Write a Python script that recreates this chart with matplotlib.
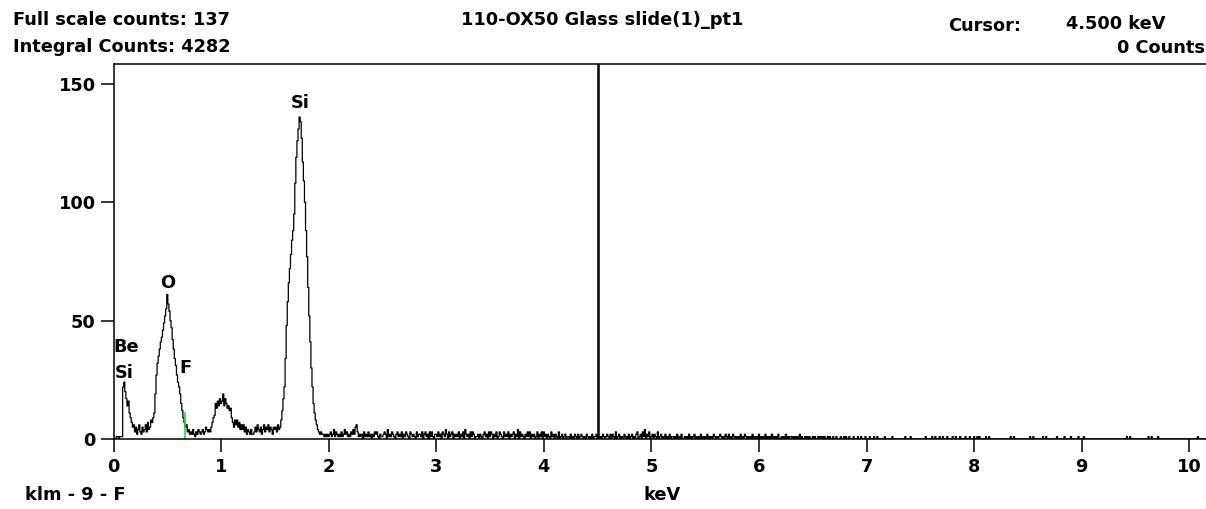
import numpy as np
import matplotlib
matplotlib.use("Agg")
from matplotlib import pyplot as plt

# EDS spectrum, one value per 0.01 keV channel
STEP = 0.01
peak_counts = [
    0, 0, 0, 1, 1, 0, 1, 1, 1, 22,          # 0.00
    24, 20, 17, 14, 16, 11, 9, 7, 5, 6,     # 0.10
    3, 5, 2, 4, 6, 3, 2, 5, 3, 4,           # 0.20
    6, 3, 7, 4, 5, 8, 7, 9, 11, 19,         # 0.30
    27, 32, 35, 38, 41, 43, 46, 49, 52, 55, # 0.40
    61, 57, 54, 50, 47, 42, 38, 34, 31, 27, # 0.50
    24, 22, 19, 15, 12, 9, 7, 5, 6, 3,      # 0.60
    4, 2, 3, 2, 4, 2, 1, 3, 2, 4,           # 0.70
    3, 2, 3, 4, 2, 3, 5, 4, 3, 4,           # 0.80
    3, 5, 7, 9, 10, 15, 13, 16, 14, 17,     # 0.90
    15, 16, 19, 14, 17, 15, 13, 14, 12, 13, # 1.00
    9, 7, 5, 8, 6, 8, 5, 7, 4, 6,           # 1.10
    4, 6, 3, 5, 2, 4, 3, 2, 4, 2,           # 1.20
    2, 3, 5, 3, 6, 4, 3, 5, 2, 4,           # 1.30
    6, 3, 5, 4, 6, 3, 5, 4, 2, 5,           # 1.40
    4, 5, 3, 6, 4, 5, 8, 12, 17, 22,        # 1.50
    34, 48, 58, 66, 72, 78, 84, 88, 95, 108,        # 1.60
    119, 126, 131, 136, 134, 127, 117, 109, 100, 88, # 1.70
    77, 64, 52, 41, 30, 22, 15, 11, 8, 6,   # 1.80
    4, 3, 2, 3, 2, 2, 1, 2, 1, 2,           # 1.90
    1, 2, 3, 1, 2, 4, 1, 3, 2, 1,           # 2.00
]

# low background from 2.1 keV on, one digit per channel
tail_rows = [
    "2131242312", "1324256312", "1203121312", "0213231021", "1232041213",
    "2102312130", "2132103212", "1031221302", "3120313102",
    "2131203214", "2031230212", "1302130421", "2031320112", "0210231203",
    "1320213013", "2103121302", "1230214031", "2102131302", "1201302130",
    "3120210312", "0210301201", "2011020102", "1020121010", "2101020112",
    "0101021012", "1020210301", "2010120102", "0120102301", "2031402130",
    "1202103012", "0102010201", "1010201020", "0101020101", "2010102010",
    "1020101021", "0101210102", "1020102101", "0102010210", "1010201010",
    "2010102010", "1020101020", "0101020101", "1010101020", "1001010100",
    "1010010101", "0100101001", "0010001001", "0100100010", "0010010001",
    "0001000100", "1000000100", "0000100000", "0000001000", "0100000000",
    "0000010000", "0100100010", "0100010000", "1001000100", "0010001000",
    "1001010000", "0100100000", "0000000000", "0000100100", "0000000000",
    "0010010000", "0000100100", "0000000100", "0000100000", "1000000100",
    "0010000000", "0000000000", "0000000000", "0000000000", "0010010000",
    "0000000000", "0010010000", "0100000000", "0000000000", "0000000000",
    "0000000010", "000000",
]
tail_counts = [int(c) for c in "".join(tail_rows)]

counts = np.array(peak_counts + tail_counts)
energy = np.arange(len(counts)) * STEP

peak_labels = ["Si", "O", "Be", "Si", "F"]
label_x = [1.733, 0.506, 0.12, 0.10, 0.67]
label_y = [142, 66, 39, 28, 30]

cursor_kev = 4.5
marker_kev = 0.665
marker_top = 11

title = "110-OX50 Glass slide(1)_pt1"
full_scale = 137
integral = 4282

x_ticks = list(range(0, 11))
y_ticks = [0, 50, 100, 150]

plt.rcParams['font.family'] = ['DejaVu Sans']
plt.rcParams['font.weight'] = 'bold'
FS = 12.8

fig = plt.figure(figsize=(12.06, 5.09), dpi=100)
ax = fig.add_axes([113.5 / 1206, 70 / 509, 1 - 113.5 / 1206, 375 / 509])

ax.plot(energy, counts, color="black", lw=0.9, drawstyle="steps-mid")
ax.axvline(cursor_kev, color="black", lw=1.8)
ax.plot([marker_kev, marker_kev], [0, marker_top], color="#22dd22", lw=1.2)

for lab, lx, ly in zip(peak_labels, label_x, label_y):
    ax.text(lx, ly, lab, ha="center", va="center", fontsize=FS, fontweight="bold")

ax.set_xlim(0, 10.155)
ax.set_ylim(0, 158.4)
ax.set_xticks(x_ticks)
ax.set_yticks(y_ticks)
ax.tick_params(direction="out", length=9.4, width=1.1, labelsize=FS, pad=4.5)
ax.tick_params(axis="y", pad=3.5)
for lbl in ax.get_xticklabels() + ax.get_yticklabels():
    lbl.set_fontweight("bold")
ax.spines["right"].set_visible(False)
for s in ["left", "top", "bottom"]:
    ax.spines[s].set_linewidth(1.1)

fig.text(13 / 1206, 1 - 20 / 509, "Full scale counts: %d" % full_scale,
         ha="left", va="center", fontsize=FS, fontweight="bold")
fig.text(13 / 1206, 1 - 47 / 509, "Integral Counts: %d" % integral,
         ha="left", va="center", fontsize=FS, fontweight="bold")
fig.text(602 / 1206, 1 - 20 / 509, title,
         ha="center", va="center", fontsize=FS, fontweight="bold")
fig.text(948 / 1206, 1 - 26 / 509, "Cursor:",
         ha="left", va="center", fontsize=FS, fontweight="bold")
fig.text(1066 / 1206, 1 - 24 / 509, "%.3f keV" % cursor_kev,
         ha="left", va="center", fontsize=FS, fontweight="bold")
fig.text(1205 / 1206, 1 - 48 / 509, "0 Counts",
         ha="right", va="center", fontsize=FS, fontweight="bold")
fig.text(25 / 1206, 1 - 495 / 509, "klm - 9 - F",
         ha="left", va="center", fontsize=FS, fontweight="bold")
fig.text(662 / 1206, 1 - 495 / 509, "keV",
         ha="center", va="center", fontsize=FS, fontweight="bold")

fig.savefig("out.png", dpi=100)
